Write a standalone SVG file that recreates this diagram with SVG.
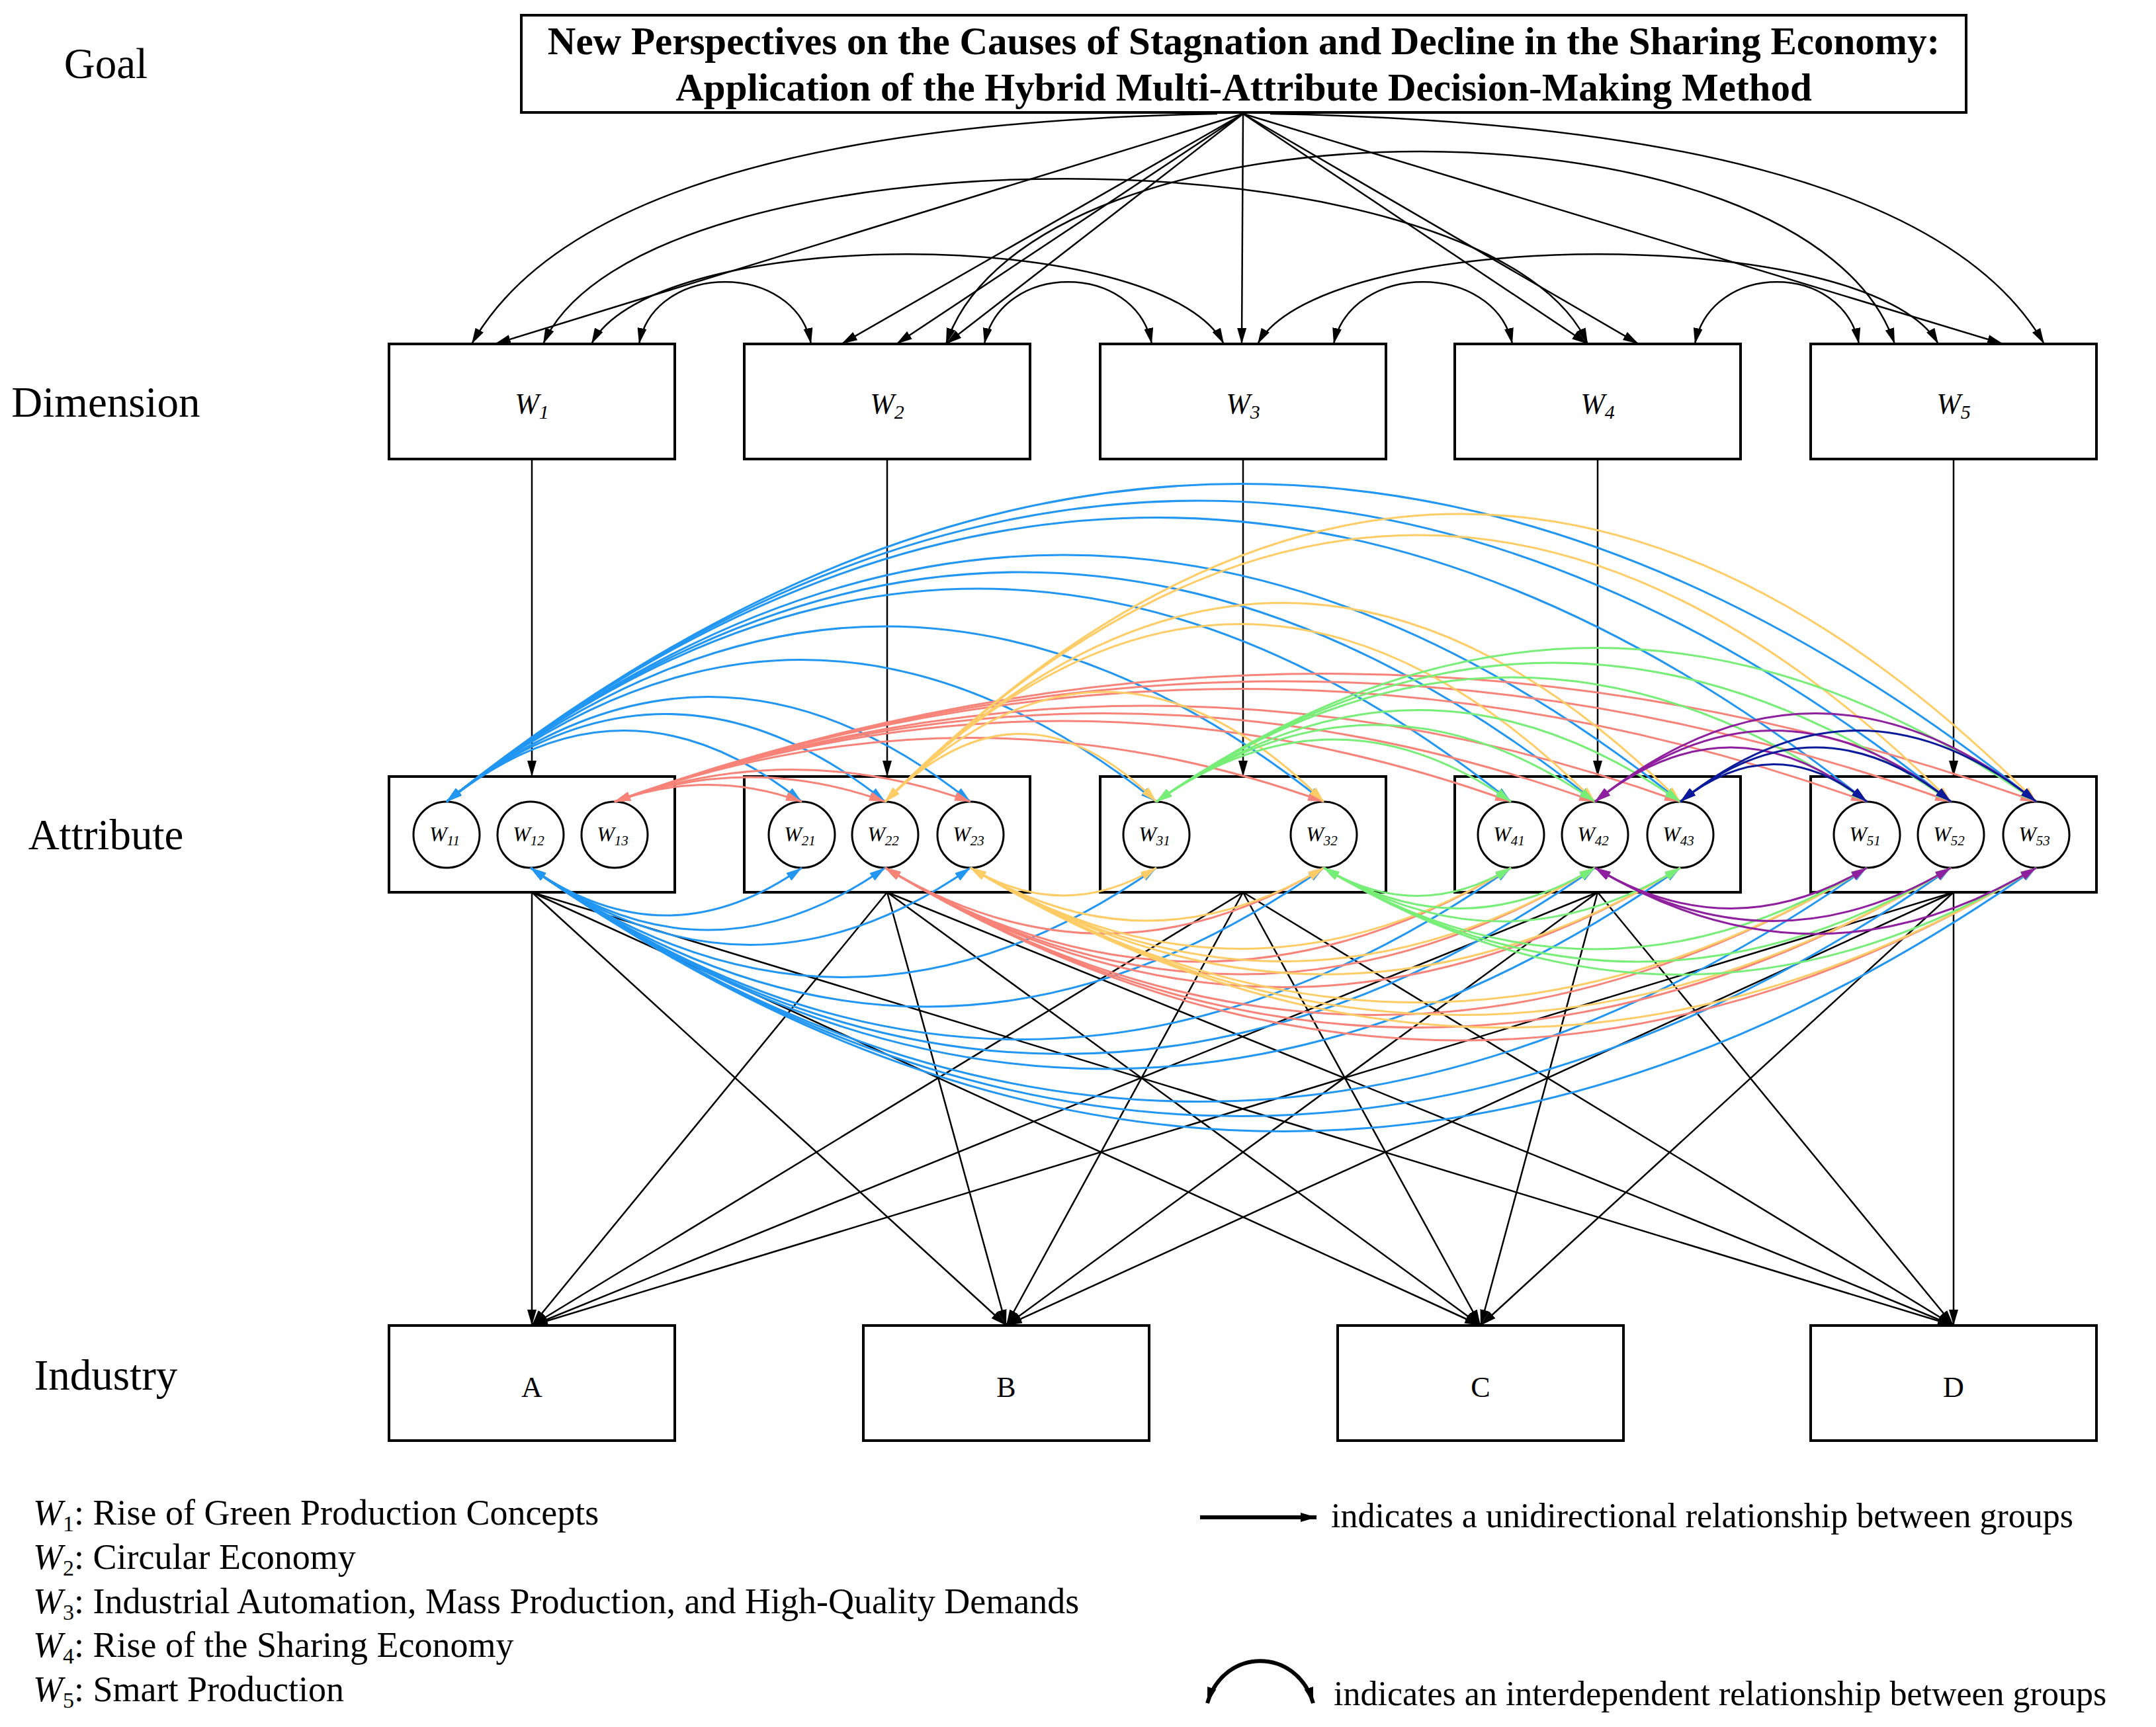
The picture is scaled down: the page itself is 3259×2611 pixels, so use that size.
<svg xmlns="http://www.w3.org/2000/svg" width="3259" height="2611" viewBox="0 0 3259 2611">
<style>
.box{fill:#fff;stroke:#000;stroke-width:4}
.circ{fill:#fff;stroke:#000;stroke-width:3}
.lbl{font-family:"Liberation Serif",serif;font-size:65px;fill:#000}
.w{font-family:"Liberation Serif",serif;font-style:italic;font-size:44px;text-anchor:middle}
.ind{font-family:"Liberation Serif",serif;font-size:44px;text-anchor:middle}
.wc{font-family:"Liberation Serif",serif;font-style:italic;font-size:32px;text-anchor:middle}
.leg{font-family:"Liberation Serif",serif;font-size:54px}
.legr{font-family:"Liberation Serif",serif;font-size:52px}
.k{fill:none;stroke:#000;stroke-width:2.5}
.b{fill:none;stroke:#2196F3;stroke-width:3;marker-start:url(#mb);marker-end:url(#mb)}
.r{fill:none;stroke:#F88379;stroke-width:3;marker-start:url(#mr);marker-end:url(#mr)}
.y{fill:none;stroke:#FFCC66;stroke-width:3;marker-start:url(#my);marker-end:url(#my)}
.g{fill:none;stroke:#77EE77;stroke-width:3;marker-start:url(#mg);marker-end:url(#mg)}
.p{fill:none;stroke:#8E1F9E;stroke-width:3;marker-start:url(#mp);marker-end:url(#mp)}
.n{fill:none;stroke:#0A1A9A;stroke-width:3;marker-start:url(#mn);marker-end:url(#mn)}
</style>
<defs>
<marker id="ma" viewBox="0 0 10 10" refX="10" refY="5" markerWidth="24" markerHeight="14" markerUnits="userSpaceOnUse" orient="auto-start-reverse" preserveAspectRatio="none"><path d="M0,0L10,5L0,10z" fill="#000"/></marker>
<marker id="mb" viewBox="0 0 10 10" refX="10" refY="5" markerWidth="24" markerHeight="14" markerUnits="userSpaceOnUse" orient="auto-start-reverse" preserveAspectRatio="none"><path d="M0,0L10,5L0,10z" fill="#2196F3"/></marker>
<marker id="mr" viewBox="0 0 10 10" refX="10" refY="5" markerWidth="24" markerHeight="14" markerUnits="userSpaceOnUse" orient="auto-start-reverse" preserveAspectRatio="none"><path d="M0,0L10,5L0,10z" fill="#F88379"/></marker>
<marker id="my" viewBox="0 0 10 10" refX="10" refY="5" markerWidth="24" markerHeight="14" markerUnits="userSpaceOnUse" orient="auto-start-reverse" preserveAspectRatio="none"><path d="M0,0L10,5L0,10z" fill="#FFCC66"/></marker>
<marker id="mg" viewBox="0 0 10 10" refX="10" refY="5" markerWidth="24" markerHeight="14" markerUnits="userSpaceOnUse" orient="auto-start-reverse" preserveAspectRatio="none"><path d="M0,0L10,5L0,10z" fill="#77EE77"/></marker>
<marker id="mp" viewBox="0 0 10 10" refX="10" refY="5" markerWidth="24" markerHeight="14" markerUnits="userSpaceOnUse" orient="auto-start-reverse" preserveAspectRatio="none"><path d="M0,0L10,5L0,10z" fill="#8E1F9E"/></marker>
<marker id="mn" viewBox="0 0 10 10" refX="10" refY="5" markerWidth="24" markerHeight="14" markerUnits="userSpaceOnUse" orient="auto-start-reverse" preserveAspectRatio="none"><path d="M0,0L10,5L0,10z" fill="#0A1A9A"/></marker>
</defs>
<rect width="3259" height="2611" fill="#fff"/>
<text class="lbl" x="160" y="118" text-anchor="middle">Goal</text>
<text class="lbl" x="160" y="630" text-anchor="middle">Dimension</text>
<text class="lbl" x="160" y="1284" text-anchor="middle">Attribute</text>
<text class="lbl" x="160" y="2101" text-anchor="middle">Industry</text>

<g id="connectors">
<g marker-end="url(#ma)" class="k">
<path d="M1840 172 Q 900 190 713 520"/>
<path d="M1879 172 L748 520"/>
<path d="M1879 172 L1272 520"/>
<path d="M1879 172 L1355 520"/>
<path d="M1879 172 L1430 520"/>
<path d="M1879 172 L1877 520"/>
<path d="M1879 172 L2400 520"/>
<path d="M1879 172 L2477 520"/>
<path d="M1879 172 L3028 520"/>
<path d="M1920 172 Q 2900 190 3090 520"/>
</g>
<g class="k" marker-start="url(#ma)" marker-end="url(#ma)">
<path d="M966 520 C 990 395 1202 395 1226 520"/>
<path d="M1488 520 C 1513 395 1716 395 1741 520"/>
<path d="M2016 520 C 2043 395 2259 395 2286 520"/>
<path d="M2562 520 C 2587 395 2785 395 2810 520"/>
<path d="M894 520 C 990 339 1754 339 1850 520"/>
<path d="M1901 520 C 2004 339 2827 339 2930 520"/>
<path d="M821 520 C 970 187 2251 187 2400 520"/>
<path d="M1430 520 C 1560 132 2734 132 2864 520"/>
</g>
<g class="k" marker-end="url(#ma)">
<path d="M804 694 L804 1174"/><path d="M1341 694 L1341 1174"/><path d="M1879 694 L1879 1174"/><path d="M2415 694 L2415 1174"/><path d="M2953 694 L2953 1174"/>
<path d="M804 1349 L804 2004"/><path d="M804 1349 L1521 2004"/><path d="M804 1349 L2238 2004"/><path d="M804 1349 L2953 2004"/>
<path d="M1341 1349 L804 2004"/><path d="M1341 1349 L1521 2004"/><path d="M1341 1349 L2238 2004"/><path d="M1341 1349 L2953 2004"/>
<path d="M1879 1349 L804 2004"/><path d="M1879 1349 L1521 2004"/><path d="M1879 1349 L2238 2004"/><path d="M1879 1349 L2953 2004"/>
<path d="M2415 1349 L804 2004"/><path d="M2415 1349 L1521 2004"/><path d="M2415 1349 L2238 2004"/><path d="M2415 1349 L2953 2004"/>
<path d="M2953 1349 L804 2004"/><path d="M2953 1349 L1521 2004"/><path d="M2953 1349 L2238 2004"/><path d="M2953 1349 L2953 2004"/>
</g>
</g>

<g id="dimensions">
<g id="W1"><rect class="box" x="588" y="520" width="432" height="174"/><text class="w" x="804" y="625">W<tspan font-size="30" dy="8">1</tspan></text></g>
<g id="W2"><rect class="box" x="1125" y="520" width="432" height="174"/><text class="w" x="1341" y="625">W<tspan font-size="30" dy="8">2</tspan></text></g>
<g id="W3"><rect class="box" x="1663" y="520" width="432" height="174"/><text class="w" x="1879" y="625">W<tspan font-size="30" dy="8">3</tspan></text></g>
<g id="W4"><rect class="box" x="2199" y="520" width="432" height="174"/><text class="w" x="2415" y="625">W<tspan font-size="30" dy="8">4</tspan></text></g>
<g id="W5"><rect class="box" x="2737" y="520" width="432" height="174"/><text class="w" x="2953" y="625">W<tspan font-size="30" dy="8">5</tspan></text></g>
</g>

<g id="goal"><rect class="box" x="788" y="23" width="2184" height="147" stroke-width="6"/>
<text x="1880" y="82" text-anchor="middle" font-family="Liberation Serif,serif" font-weight="bold" font-size="59">New Perspectives on the Causes of Stagnation and Decline in the Sharing Economy:</text>
<text x="1880" y="152" text-anchor="middle" font-family="Liberation Serif,serif" font-weight="bold" font-size="59">Application of the Hybrid Multi-Attribute Decision-Making Method</text></g>

<g id="attributes">
<rect class="box" x="588" y="1174" width="432" height="175"/>
<rect class="box" x="1125" y="1174" width="432" height="175"/>
<rect class="box" x="1663" y="1174" width="432" height="175"/>
<rect class="box" x="2199" y="1174" width="432" height="175"/>
<rect class="box" x="2737" y="1174" width="432" height="175"/>
<g id="W11"><circle class="circ" cx="675" cy="1262" r="50" stroke-width="5"/><text class="wc" x="672" y="1272">W<tspan font-size="21" dy="6">11</tspan></text></g>
<g id="W12"><circle class="circ" cx="802" cy="1262" r="50" stroke-width="5"/><text class="wc" x="799" y="1272">W<tspan font-size="21" dy="6">12</tspan></text></g>
<g id="W13"><circle class="circ" cx="929" cy="1262" r="50" stroke-width="5"/><text class="wc" x="926" y="1272">W<tspan font-size="21" dy="6">13</tspan></text></g>
<g id="W21"><circle class="circ" cx="1212" cy="1262" r="50"/><text class="wc" x="1209" y="1272">W<tspan font-size="21" dy="6">21</tspan></text></g>
<g id="W22"><circle class="circ" cx="1338" cy="1262" r="50"/><text class="wc" x="1335" y="1272">W<tspan font-size="21" dy="6">22</tspan></text></g>
<g id="W23"><circle class="circ" cx="1467" cy="1262" r="50"/><text class="wc" x="1464" y="1272">W<tspan font-size="21" dy="6">23</tspan></text></g>
<g id="W31"><circle class="circ" cx="1748" cy="1262" r="50"/><text class="wc" x="1745" y="1272">W<tspan font-size="21" dy="6">31</tspan></text></g>
<g id="W32"><circle class="circ" cx="2001" cy="1262" r="50"/><text class="wc" x="1998" y="1272">W<tspan font-size="21" dy="6">32</tspan></text></g>
<g id="W41"><circle class="circ" cx="2284" cy="1262" r="50"/><text class="wc" x="2281" y="1272">W<tspan font-size="21" dy="6">41</tspan></text></g>
<g id="W42"><circle class="circ" cx="2411" cy="1262" r="50"/><text class="wc" x="2408" y="1272">W<tspan font-size="21" dy="6">42</tspan></text></g>
<g id="W43"><circle class="circ" cx="2540" cy="1262" r="50"/><text class="wc" x="2537" y="1272">W<tspan font-size="21" dy="6">43</tspan></text></g>
<g id="W51"><circle class="circ" cx="2822" cy="1262" r="50"/><text class="wc" x="2819" y="1272">W<tspan font-size="21" dy="6">51</tspan></text></g>
<g id="W52"><circle class="circ" cx="2949" cy="1262" r="50"/><text class="wc" x="2946" y="1272">W<tspan font-size="21" dy="6">52</tspan></text></g>
<g id="W53"><circle class="circ" cx="3078" cy="1262" r="50"/><text class="wc" x="3075" y="1272">W<tspan font-size="21" dy="6">53</tspan></text></g>
</g>

<g id="interdependencies">
<path class="b" d="M675 1212 Q943 997 1212 1212"/>
<path class="b" d="M675 1212 Q1006 947 1338 1212"/>
<path class="b" d="M675 1212 Q1071 895 1467 1212"/>
<path class="b" d="M675 1212 Q1211 783 1748 1212"/>
<path class="b" d="M675 1212 Q1338 682 2001 1212"/>
<path class="b" d="M675 1212 Q1479 568 2284 1212"/>
<path class="b" d="M675 1212 Q1543 518 2411 1212"/>
<path class="b" d="M675 1212 Q1607 466 2540 1212"/>
<path class="b" d="M675 1212 Q1748 353 2822 1212"/>
<path class="b" d="M675 1212 Q1812 302 2949 1212"/>
<path class="b" d="M675 1212 Q1876 251 3078 1212"/>
<path class="r" d="M929 1212 Q1070 1161 1212 1212"/>
<path class="r" d="M929 1212 Q1133 1138 1338 1212"/>
<path class="r" d="M929 1212 Q1198 1115 1467 1212"/>
<path class="r" d="M929 1212 Q1465 1019 2001 1212"/>
<path class="r" d="M929 1212 Q1606 968 2284 1212"/>
<path class="r" d="M929 1212 Q1670 945 2411 1212"/>
<path class="r" d="M929 1212 Q1734 922 2540 1212"/>
<path class="r" d="M929 1212 Q1875 871 2822 1212"/>
<path class="r" d="M929 1212 Q1939 848 2949 1212"/>
<path class="r" d="M929 1212 Q2003 825 3078 1212"/>
<path class="y" d="M1338 1212 Q1543 1007 1748 1212"/>
<path class="y" d="M1338 1212 Q1669 880 2001 1212"/>
<path class="y" d="M1338 1212 Q1874 675 2411 1212"/>
<path class="y" d="M1338 1212 Q1939 611 2540 1212"/>
<path class="y" d="M1338 1212 Q2143 406 2949 1212"/>
<path class="y" d="M1338 1212 Q2208 342 3078 1212"/>
<path class="g" d="M1748 1212 Q2016 1024 2284 1212"/>
<path class="g" d="M1748 1212 Q2079 980 2411 1212"/>
<path class="g" d="M1748 1212 Q2144 935 2540 1212"/>
<path class="g" d="M1748 1212 Q2285 836 2822 1212"/>
<path class="g" d="M1748 1212 Q2348 792 2949 1212"/>
<path class="g" d="M1748 1212 Q2413 747 3078 1212"/>
<path class="p" d="M2411 1212 Q2616 1048 2822 1212"/>
<path class="p" d="M2411 1212 Q2680 997 2949 1212"/>
<path class="p" d="M2411 1212 Q2744 945 3078 1212"/>
<path class="n" d="M2540 1212 Q2681 1099 2822 1212"/>
<path class="n" d="M2540 1212 Q2744 1048 2949 1212"/>
<path class="n" d="M2540 1212 Q2809 997 3078 1212"/>
<path class="b" d="M802 1312 Q1007 1456 1212 1312"/>
<path class="b" d="M802 1312 Q1070 1500 1338 1312"/>
<path class="b" d="M802 1312 Q1134 1545 1467 1312"/>
<path class="b" d="M802 1312 Q1275 1643 1748 1312"/>
<path class="b" d="M802 1312 Q1401 1732 2001 1312"/>
<path class="b" d="M802 1312 Q1543 1831 2284 1312"/>
<path class="b" d="M802 1312 Q1606 1875 2411 1312"/>
<path class="b" d="M802 1312 Q1671 1920 2540 1312"/>
<path class="b" d="M802 1312 Q1812 2019 2822 1312"/>
<path class="b" d="M802 1312 Q1875 2063 2949 1312"/>
<path class="b" d="M802 1312 Q1940 2109 3078 1312"/>
<path class="r" d="M1338 1312 Q1669 1511 2001 1312"/>
<path class="r" d="M1338 1312 Q1811 1596 2284 1312"/>
<path class="r" d="M1338 1312 Q1874 1634 2411 1312"/>
<path class="r" d="M1338 1312 Q1939 1673 2540 1312"/>
<path class="r" d="M1338 1312 Q2080 1757 2822 1312"/>
<path class="r" d="M1338 1312 Q2143 1795 2949 1312"/>
<path class="r" d="M1338 1312 Q2208 1834 3078 1312"/>
<path class="y" d="M1467 1312 Q1607 1396 1748 1312"/>
<path class="y" d="M1467 1312 Q1734 1472 2001 1312"/>
<path class="y" d="M1467 1312 Q1875 1557 2284 1312"/>
<path class="y" d="M1467 1312 Q1939 1595 2411 1312"/>
<path class="y" d="M1467 1312 Q2003 1634 2540 1312"/>
<path class="y" d="M1467 1312 Q2144 1719 2822 1312"/>
<path class="y" d="M1467 1312 Q2208 1757 2949 1312"/>
<path class="y" d="M1467 1312 Q2272 1795 3078 1312"/>
<path class="g" d="M2001 1312 Q2142 1397 2284 1312"/>
<path class="g" d="M2001 1312 Q2206 1435 2411 1312"/>
<path class="g" d="M2001 1312 Q2270 1474 2540 1312"/>
<path class="g" d="M2001 1312 Q2411 1558 2822 1312"/>
<path class="g" d="M2001 1312 Q2475 1596 2949 1312"/>
<path class="g" d="M2001 1312 Q2539 1635 3078 1312"/>
<path class="p" d="M2411 1312 Q2616 1435 2822 1312"/>
<path class="p" d="M2411 1312 Q2680 1473 2949 1312"/>
<path class="p" d="M2411 1312 Q2744 1512 3078 1312"/>
</g>

<g id="industries">
<g id="A"><rect class="box" x="588" y="2004" width="432" height="174"/><text class="ind" x="804" y="2112">A</text></g>
<g id="B"><rect class="box" x="1305" y="2004" width="432" height="174"/><text class="ind" x="1521" y="2112">B</text></g>
<g id="C"><rect class="box" x="2022" y="2004" width="432" height="174"/><text class="ind" x="2238" y="2112">C</text></g>
<g id="D"><rect class="box" x="2737" y="2004" width="432" height="174"/><text class="ind" x="2953" y="2112">D</text></g>
</g>

<g id="legend">
<text class="leg" x="50" y="2305"><tspan font-style="italic">W</tspan><tspan font-size="34" dy="10">1</tspan><tspan dy="-10">: Rise of Green Production Concepts</tspan></text>
<text class="leg" x="50" y="2372"><tspan font-style="italic">W</tspan><tspan font-size="34" dy="10">2</tspan><tspan dy="-10">: Circular Economy</tspan></text>
<text class="leg" x="50" y="2439"><tspan font-style="italic">W</tspan><tspan font-size="34" dy="10">3</tspan><tspan dy="-10">: Industrial Automation, Mass Production, and High-Quality Demands</tspan></text>
<text class="leg" x="50" y="2505"><tspan font-style="italic">W</tspan><tspan font-size="34" dy="10">4</tspan><tspan dy="-10">: Rise of the Sharing Economy</tspan></text>
<text class="leg" x="50" y="2572"><tspan font-style="italic">W</tspan><tspan font-size="34" dy="10">5</tspan><tspan dy="-10">: Smart Production</tspan></text>
<path d="M1814 2294 L1990 2294" stroke="#000" stroke-width="6" marker-end="url(#ma)"/>
<text class="legr" x="2012" y="2309">indicates a unidirectional relationship between groups</text>
<path d="M1825 2575 C 1850 2490 1960 2490 1985 2575" fill="none" stroke="#000" stroke-width="6" marker-start="url(#ma)" marker-end="url(#ma)"/>
<text class="legr" x="2016" y="2578">indicates an interdependent relationship between groups</text>
</g>
</svg>
